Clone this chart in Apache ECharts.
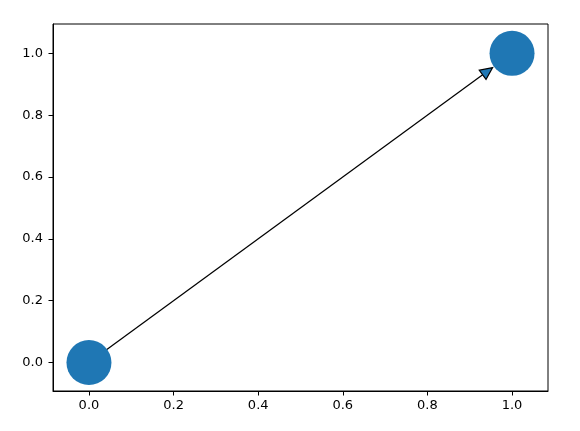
<!DOCTYPE html>
<html>
<head>
<meta charset="utf-8">
<script src="https://cdn.jsdelivr.net/npm/echarts@6/dist/echarts.min.js"></script>
<style>
  html, body { margin: 0; padding: 0; background: #fff; }
  #chart { width: 580px; height: 431px; }
</style>
</head>
<body>
<div id="chart"></div>
<script>
// node positions
var nodeX = [0, 1];
var nodeY = [0, 1];
// edges as [source, target]
var edges = [[0, 1]];
// tick labels
var xTicks = [0, 0.2, 0.4, 0.6, 0.8, 1.0];
var yTicks = [0, 0.2, 0.4, 0.6, 0.8, 1.0];

var blue = '#1f77b4';
var nodeSize = 45;

var chart = echarts.init(document.getElementById('chart'));

function axisCommon(ticks, margin) {
  return {
    type: 'value',
    splitLine: { show: false },
    axisLine: { show: true, onZero: false, lineStyle: { color: '#000', width: 1 } },
    axisTick: { show: true, length: 4.5, customValues: ticks, lineStyle: { color: '#000', width: 1 } },
    axisLabel: {
      customValues: ticks,
      color: '#000',
      fontFamily: 'DejaVu Sans',
      fontSize: 13,
      margin: margin,
      formatter: function (v) { return v.toFixed(1); }
    }
  };
}

var xAxis = axisCommon(xTicks, 8);
xAxis.min = -0.085; xAxis.max = 1.085;
var yAxis = axisCommon(yTicks, 10);
yAxis.min = -0.092; yAxis.max = 1.095;

var edgeData = edges.map(function (e) {
  return [nodeX[e[0]], nodeY[e[0]], nodeX[e[1]], nodeY[e[1]]];
});

chart.setOption({
  animation: false,
  grid: {
    left: 53, right: 32, top: 24, bottom: 40,
    show: true, borderColor: '#000', borderWidth: 1, backgroundColor: '#fff'
  },
  xAxis: xAxis,
  yAxis: yAxis,
  series: [
    {
      type: 'custom',
      coordinateSystem: 'cartesian2d',
      encode: { x: [0, 2], y: [1, 3] },
      z: 2,
      silent: true,
      data: edgeData,
      renderItem: function (params, api) {
        var a = api.coord([api.value(0), api.value(1)]);
        var b = api.coord([api.value(2), api.value(3)]);
        var dx = b[0] - a[0], dy = b[1] - a[1];
        var len = Math.sqrt(dx * dx + dy * dy);
        var ux = dx / len, uy = dy / len;
        var px = -uy, py = ux;
        var tip = [b[0] - ux * 24, b[1] - uy * 24];
        var headLen = 12.4, halfW = 5.7;
        var base = [tip[0] - ux * headLen, tip[1] - uy * headLen];
        var start = [a[0] + ux * 20, a[1] + uy * 20];
        return {
          type: 'group',
          children: [
            {
              type: 'line',
              shape: { x1: start[0], y1: start[1], x2: base[0], y2: base[1] },
              style: { stroke: '#000', lineWidth: 1.25 }
            },
            {
              type: 'polygon',
              shape: {
                points: [
                  tip,
                  [base[0] + px * halfW, base[1] + py * halfW],
                  [base[0] - px * halfW, base[1] - py * halfW]
                ]
              },
              style: { fill: blue, stroke: '#000', lineWidth: 1.25, lineJoin: 'miter' }
            }
          ]
        };
      }
    },
    {
      type: 'scatter',
      z: 3,
      symbol: 'circle',
      symbolSize: nodeSize,
      itemStyle: { color: blue, opacity: 1 },
      emphasis: { disabled: true },
      data: nodeX.map(function (x, i) { return [x, nodeY[i]]; })
    }
  ]
});
</script>
</body>
</html>
